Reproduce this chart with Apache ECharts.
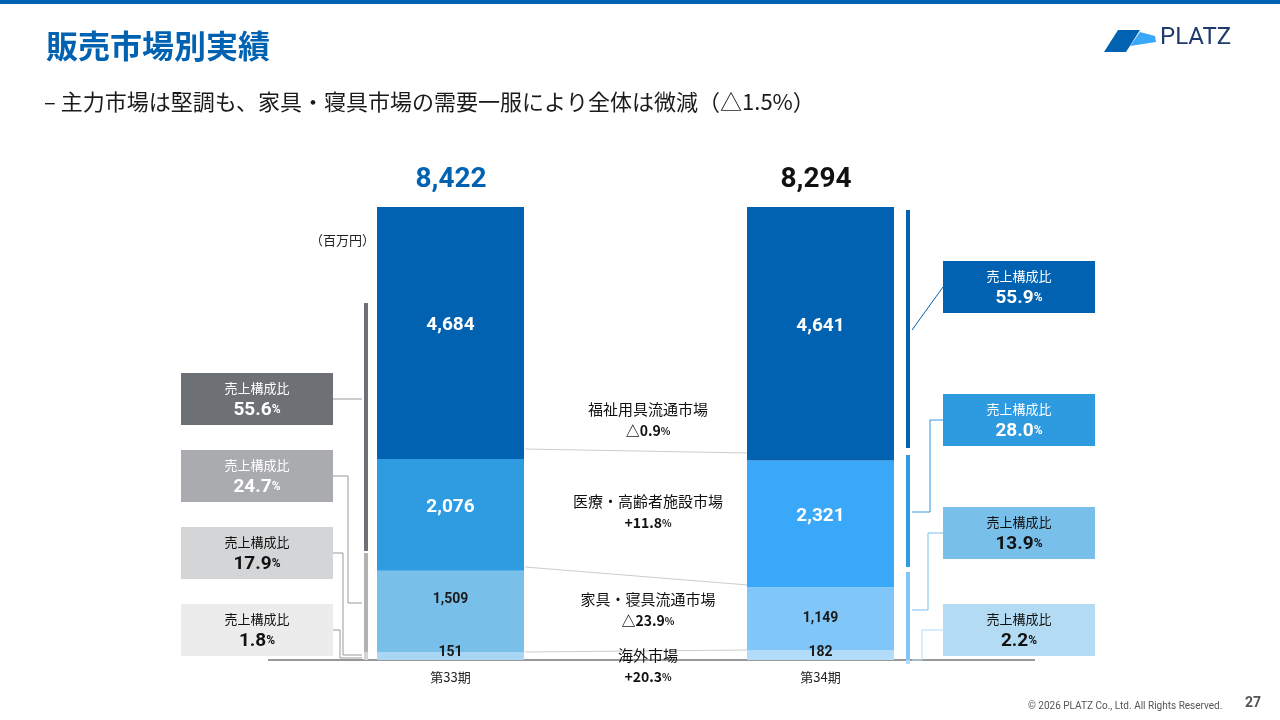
<!DOCTYPE html><html><head><meta charset="utf-8"><script src="https://cdn.jsdelivr.net/npm/echarts@6/dist/echarts.min.js"></script>
<style>body{margin:0}#c{width:1280px;height:720px}</style></head><body><div id="c"></div><script>
const periods=['第33期','','第34期'];
const segNames=['福祉用具流通市場','医療・高齢者施設市場','家具・寝具流通市場','海外市場'];
const p33=[4684,2076,1509,151];
const p34=[4641,2321,1149,182];
const totals=['8,422','8,294'];
const share33=['55.6','24.7','17.9','1.8'];
const share34=['55.9','28.0','13.9','2.2'];
const changes=['△0.9','+11.8','△23.9','+20.3'];
const c33=['#0062b0','#2f9be0','#78bfea','#a9d6f2'];
const c34=['#0062b0','#3aa8f8','#80c6f9','#b3dcfa'];
const s33=p33.reduce((a,b)=>a+b),s34=p34.reduce((a,b)=>a+b);
const F='"Noto Sans CJK JP","Noto Sans",sans-serif';
const offs=[[0,-8],[0,-8],[0,-12],[0,-3]];
const offs34=[[0,-8],[0,-8],[0,0],[0,-3]];
const series=[3,2,1,0].map(i=>({type:'bar',stack:'a',name:segNames[i],barWidth:147,
 data:[{value:p33[i]/s33*100,itemStyle:{color:c33[i]},raw:p33[i],label:{offset:offs[i]}},'-',{value:p34[i]/s34*100,itemStyle:{color:c34[i]},raw:p34[i],label:{offset:offs34[i]}}],
 label:{show:true,position:'inside',color:i<2?'#fff':'#1a1a1a',fontSize:i<2?19:14,fontWeight:'bold',fontFamily:'Roboto',
  formatter:p=>p.data.raw.toLocaleString('en-US')}}));
const g=[];
g.push({type:'rect',shape:{x:0,y:0,width:1280,height:4},style:{fill:'#0062b0'}});
g.push({type:'text',x:46,y:30,style:{text:'販売市場別実績',font:'bold 32px '+F,fill:'#0062b0'}});
g.push({type:'text',x:44,y:91,style:{text:'– 主力市場は堅調も、家具・寝具市場の需要一服により全体は微減（△1.5%）',font:'22px '+F,fill:'#1a1a1a'}});
g.push({type:'text',x:1160,y:26,style:{text:'PLATZ',font:'24px Roboto',fill:'#1f3a6e'}});
g.push({type:'polygon',shape:{points:[[1104,52],[1118,30],[1140,30],[1126,52]]},style:{fill:'#0062b0'}});
g.push({type:'polygon',shape:{points:[[1130,46],[1140,32],[1155,36],[1156,42]]},style:{fill:'#3aa8f8'}});
g.push({type:'text',x:1028,y:701,style:{text:'© 2026 PLATZ Co., Ltd. All Rights Reserved.',font:'10px Roboto',fill:'#555'}});
g.push({type:'text',x:1245,y:696,style:{text:'27',font:'bold 14px Roboto',fill:'#555'}});
g.push({type:'text',x:451,y:180,style:{text:totals[0],font:'bold 28px Roboto',fill:'#0062b0',align:'center',verticalAlign:'middle'}});
g.push({type:'text',x:816,y:180,style:{text:totals[1],font:'bold 28px Roboto',fill:'#111',align:'center',verticalAlign:'middle'}});
g.push({type:'text',x:310,y:234,style:{text:'（百万円）',font:'13px '+F,fill:'#222'}});
g.push({type:'line',shape:{x1:268,y1:660,x2:1035,y2:660},style:{stroke:'#333',lineWidth:1}});
[[449,453],[567,585],[652,650]].forEach(([a,b])=>g.push({type:'line',shape:{x1:525,y1:a,x2:748,y2:b},style:{stroke:'#ccc',lineWidth:1}}));
const midY=[420,512,610,666];
segNames.forEach((n,i)=>g.push({type:'text',x:648,y:midY[i],style:{text:'{a|'+n+'}\n{b|'+changes[i]+'}{c|%}',align:'center',verticalAlign:'middle',
 rich:{a:{font:'15px '+F,fill:'#111',lineHeight:22},b:{font:'bold 14px '+F,fill:'#111',lineHeight:22},c:{font:'bold 10px '+F,fill:'#111'}}}}));
const lb=[[303,551,'#6d7075'],[553,652,'#b0b2b5'],[652,660,'#d4d5d7']];
lb.forEach(([a,b,c])=>g.push({type:'rect',shape:{x:364,y:a,width:4,height:b-a},style:{fill:c}}));
const rb=[[210,448,'#0062b0'],[455,567,'#2f9be0'],[572,660,'#80c6f9'],[660,664,'#b3dcfa']];
rb.forEach(([a,b,c])=>g.push({type:'rect',shape:{x:906,y:a,width:4,height:b-a},style:{fill:c}}));
const lbox=[373,450,527,604],lcol=['#6d7075','#a9abae','#d4d5d7','#ececed'],ltx=['#fff','#fff','#111','#111'];
const lline=[[[333,399],[362,399]],[[333,476],[348,476],[348,603],[362,603]],[[333,553],[343,553],[343,655],[362,655]],[[333,630],[340,630],[340,658],[362,658]]];
const rbox=[261,394,507,604],rcol=['#0062b0','#2e9ae0','#78bfea','#b3dcf4'],rtx=['#fff','#fff','#111','#111'];
const rline=[[[943,287],[912,330]],[[943,420],[930,420],[930,512],[912,512]],[[943,533],[928,533],[928,610],[912,610]],[[943,630],[922,630],[922,660],[912,660]]];
function box(x,y,c,t,s){g.push({type:'rect',shape:{x:x,y:y,width:152,height:52},style:{fill:c}});
 g.push({type:'text',x:x+76,y:y+27,style:{text:'{a|売上構成比}\n{b|'+s+'}{c|%}',align:'center',verticalAlign:'middle',
 rich:{a:{font:'13px '+F,fill:t,lineHeight:20},b:{font:'bold 19px Roboto',fill:t,lineHeight:24},c:{font:'bold 12px Roboto',fill:t}}}});}
lbox.forEach((y,i)=>{box(181,y,lcol[i],ltx[i],share33[i]);g.push({type:'polyline',shape:{points:lline[i]},style:{stroke:'#999',lineWidth:1,fill:null}});});
rbox.forEach((y,i)=>{box(943,y,rcol[i],rtx[i],share34[i]);g.push({type:'polyline',shape:{points:rline[i]},style:{stroke:rcol[i],lineWidth:1,fill:null}});});
const ch=echarts.init(document.getElementById('c'));
ch.setOption({animation:false,backgroundColor:'#fff',
 grid:{left:358,width:555,top:207,height:453},
 xAxis:{type:'category',data:periods,axisLine:{show:false},axisTick:{show:false},axisLabel:{fontSize:13,color:'#222',fontFamily:F,margin:11}},
 yAxis:{type:'value',min:0,max:100,show:false},
 series:series,graphic:g});
</script></body></html>
